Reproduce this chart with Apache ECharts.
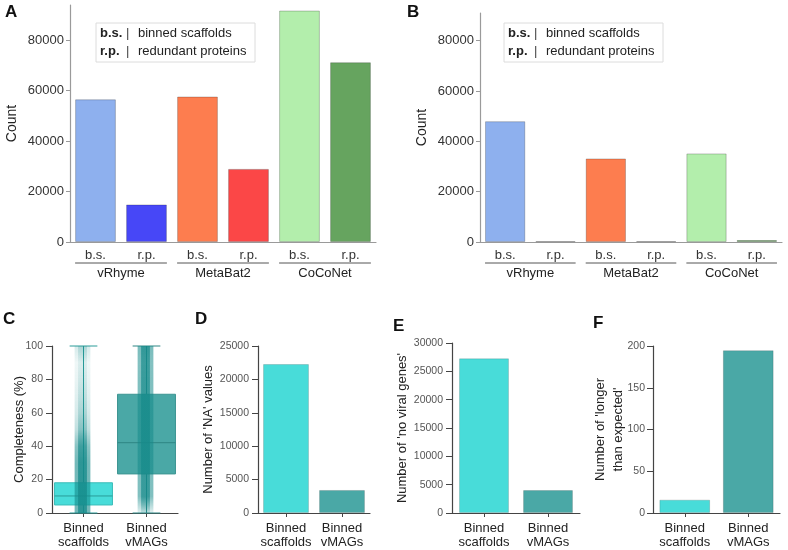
<!DOCTYPE html>
<html>
<head>
<meta charset="utf-8">
<script src="https://cdn.jsdelivr.net/npm/echarts@6/dist/echarts.min.js"></script>
<style>
  html, body { margin: 0; padding: 0; background: #fff; }
  #chart { width: 788px; height: 550px; }
</style>
</head>
<body>
<div id="chart"></div>
<script>
// A / B: binned scaffolds (b.s.) and redundant proteins (r.p.) per binner
var binners = ['vRhyme', 'MetaBat2', 'CoCoNet'];
var subLabels = ['b.s.', 'r.p.'];
var countA = [56600, 14900, 57700, 29000, 91800, 71300];
var countB = [48000, 350, 33200, 350, 35200, 800];
var countTicks = [0, 20000, 40000, 60000, 80000];

// C - F: binned scaffolds vs binned vMAGs
var binCats = ['Binned\nscaffolds', 'Binned\nvMAGs'];
// completeness box stats [min, q1, median, q3, max]
var boxScaffolds = [0, 4.8, 10.2, 18.1, 100];
var boxVmags = [0, 23.4, 42.1, 71.1, 100];
// how dense the point strip looks (0..1), read by eye at these completeness levels
var stripLevels = [0, 5, 10, 20, 30, 40, 50, 60, 70, 80, 90, 100];
var stripScaffolds = [1, 1, 1, 1, 1, 0.85, 0.45, 0.3, 0.22, 0.16, 0.12, 0.3];
var stripVmags = [0.2, 0.55, 0.9, 0.9, 0.92, 0.92, 0.92, 0.92, 0.9, 0.9, 0.88, 0.95];
var naCounts = [22300, 3450];
var noViralCounts = [27300, 4050];
var longerCounts = [16, 195];

var FONT = 'Liberation Sans, Arial, sans-serif';
var barColors = ['#8eb0ee', '#4747f7', '#fd7d4f', '#fb4747', '#b3eeac', '#66a45f'];
var tealColors = ['#48dcd9', '#4aa8a6'];
var boxStyle = [
  { fill: '#48dcd9', edge: '#3cbdb9', line: '#2a9c99' },
  { fill: '#4aa8a6', edge: '#3e9592', line: '#2e8684' }
];

var keys = [];
binners.forEach(function (b) {
  subLabels.forEach(function (s) { keys.push(b + ' ' + s); });
});

var chart = echarts.init(document.getElementById('chart'));

function plain(v) { return String(v); }

function topY(gridIdx, name, gap, max, ticks) {
  return {
    gridIndex: gridIdx, type: 'value', min: 0, max: max,
    name: name, nameLocation: 'middle', nameGap: gap, nameMoveOverlap: false,
    nameTextStyle: { fontSize: 14, color: '#222', fontFamily: FONT },
    axisLine: { show: true, lineStyle: { color: '#9a9a9a', width: 1.2 } },
    axisTick: { show: true, length: 4, customValues: ticks, lineStyle: { color: '#9a9a9a' } },
    axisLabel: { customValues: ticks, fontSize: 13, color: '#333', margin: 6, fontFamily: FONT, formatter: plain },
    splitLine: { show: false }
  };
}
function topX(gridIdx) {
  return {
    gridIndex: gridIdx, type: 'category', data: keys,
    axisLine: { lineStyle: { color: '#9a9a9a', width: 1.2 } },
    axisTick: { show: false },
    axisLabel: {
      interval: 0, fontSize: 13, color: '#333', margin: 7, fontFamily: FONT,
      formatter: function (v) { return v.split(' ')[1]; }
    }
  };
}
function botY(gridIdx, name, gap, max, interval, labelMargin) {
  return {
    gridIndex: gridIdx, type: 'value', min: 0, max: max, interval: interval,
    name: name, nameLocation: 'middle', nameGap: gap, nameMoveOverlap: false,
    nameTextStyle: { fontSize: 13, color: '#222', fontFamily: FONT, lineHeight: 18 },
    axisLine: { show: true, lineStyle: { color: '#444', width: 1.2 } },
    axisTick: { show: true, length: 6, lineStyle: { color: '#444' } },
    axisLabel: { fontSize: 10.5, color: '#555', margin: labelMargin, fontFamily: FONT, formatter: plain },
    splitLine: { show: false }
  };
}
function botX(gridIdx) {
  return {
    gridIndex: gridIdx, type: 'category', data: binCats,
    axisLine: { lineStyle: { color: '#444', width: 1.2 } },
    axisTick: { show: true, length: 4, alignWithLabel: true, lineStyle: { color: '#444' } },
    axisLabel: { interval: 0, fontSize: 13, lineHeight: 14, color: '#222', margin: 8, fontFamily: FONT }
  };
}

function coloredBars(values, colors) {
  return values.map(function (v, i) {
    return { value: v, itemStyle: { color: colors[i] } };
  });
}

function renderBox(params, api) {
  var cat = api.value(0);
  var band = api.size([1, 0])[0];
  var half = band * 0.46;
  var capHalf = band * 0.22;
  var x = api.coord([cat, 0])[0];
  var y = function (k) { return api.coord([cat, api.value(k)])[1]; };
  var st = boxStyle[cat];
  var ln = { stroke: st.line, lineWidth: 1 };
  return {
    type: 'group',
    children: [
      { type: 'line', shape: { x1: x, y1: y(1), x2: x, y2: y(2) }, style: ln },
      { type: 'line', shape: { x1: x, y1: y(4), x2: x, y2: y(5) }, style: ln },
      { type: 'line', shape: { x1: x - capHalf, y1: y(1), x2: x + capHalf, y2: y(1) }, style: ln },
      { type: 'line', shape: { x1: x - capHalf, y1: y(5), x2: x + capHalf, y2: y(5) }, style: ln },
      { type: 'rect', shape: { x: x - half, y: y(4), width: half * 2, height: y(2) - y(4) },
        style: { fill: st.fill, stroke: st.edge, lineWidth: 1 } },
      { type: 'line', shape: { x1: x - half, y1: y(3), x2: x + half, y2: y(3) }, style: ln }
    ]
  };
}

function renderStrip(params, api) {
  var cat = api.value(0);
  var dens = cat === 0 ? stripScaffolds : stripVmags;
  var band = api.size([1, 0])[0];
  var x = api.coord([cat, 0])[0] - 1;
  var yTop = api.coord([cat, 100])[1];
  var yBot = api.coord([cat, 0])[1];
  function grad(scale) {
    var stops = [];
    for (var i = stripLevels.length - 1; i >= 0; i--) {
      stops.push({ offset: 1 - stripLevels[i] / 100,
        color: 'rgba(21,138,138,' + (dens[i] * scale).toFixed(3) + ')' });
    }
    return { type: 'linear', x: 0, y: 0, x2: 0, y2: 1, colorStops: stops };
  }
  var outer = band * 0.125, inner = band * 0.07;
  return {
    type: 'group',
    children: [
      { type: 'rect', shape: { x: x - outer, y: yTop, width: outer * 2, height: yBot - yTop },
        style: { fill: grad(0.6) } },
      { type: 'rect', shape: { x: x - inner, y: yTop, width: inner * 2, height: yBot - yTop },
        style: { fill: grad(0.75) } }
    ]
  };
}

var option = {
  animation: false,
  textStyle: { fontFamily: FONT },
  grid: [
    { left: 70, top: 5, width: 306, height: 237 },
    { left: 480, top: 13, width: 302, height: 229 },
    { left: 52, top: 346, width: 126, height: 167 },
    { left: 258, top: 346, width: 112, height: 167 },
    { left: 452, top: 343, width: 128, height: 170 },
    { left: 653, top: 346, width: 127, height: 167 }
  ],
  xAxis: [topX(0), topX(1), botX(2), botX(3), botX(4), botX(5)],
  yAxis: [
    topY(0, 'Count', 51, 94000, countTicks),
    topY(1, 'Count', 51, 91000, countTicks),
    botY(2, 'Completeness (%)', 24, 100, 20, 9),
    botY(3, "Number of 'NA' values", 41, 25000, 5000, 9),
    botY(4, "Number of 'no viral genes'", 41, 30000, 5000, 9),
    botY(5, "Number of 'longer\nthan expected'", 26, 200, 50, 8)
  ],
  series: [
    { type: 'bar', xAxisIndex: 0, yAxisIndex: 0, barWidth: '80%',
      itemStyle: { borderColor: 'rgba(0,0,0,0.22)', borderWidth: 1 },
      data: coloredBars(countA, barColors) },
    { type: 'bar', xAxisIndex: 1, yAxisIndex: 1, barWidth: '80%',
      itemStyle: { borderColor: 'rgba(0,0,0,0.22)', borderWidth: 1 },
      data: coloredBars(countB, barColors) },
    { type: 'custom', xAxisIndex: 2, yAxisIndex: 2, renderItem: renderBox,
      encode: { x: 0, y: [1, 2, 3, 4, 5] },
      data: [[0].concat(boxScaffolds), [1].concat(boxVmags)] },
    { type: 'custom', xAxisIndex: 2, yAxisIndex: 2, renderItem: renderStrip,
      encode: { x: 0, y: 1 },
      data: [[0, 100], [1, 100]] },
    { type: 'bar', xAxisIndex: 3, yAxisIndex: 3, barWidth: '82%',
      itemStyle: { borderColor: 'rgba(0,0,0,0.15)', borderWidth: 1 },
      data: coloredBars(naCounts, tealColors) },
    { type: 'bar', xAxisIndex: 4, yAxisIndex: 4, barWidth: '78%',
      itemStyle: { borderColor: 'rgba(0,0,0,0.15)', borderWidth: 1 },
      data: coloredBars(noViralCounts, tealColors) },
    { type: 'bar', xAxisIndex: 5, yAxisIndex: 5, barWidth: '80%',
      itemStyle: { borderColor: 'rgba(0,0,0,0.15)', borderWidth: 1 },
      data: coloredBars(longerCounts, tealColors) }
  ]
};
chart.setOption(option);

// extra drawing: panel letters, legend boxes, binner brackets under A and B
var graphics = [];
function letter(t, x, y) {
  graphics.push({ type: 'text', x: x, y: y,
    style: { text: t, font: 'bold 17px ' + FONT, fill: '#111' } });
}
letter('A', 5, 4);
letter('B', 407, 4);
letter('C', 3, 311);
letter('D', 195, 311);
letter('E', 393, 318);
letter('F', 593, 315);

function legendBox(x, y) {
  var rows = [['b.s.', 'binned scaffolds'], ['r.p.', 'redundant proteins']];
  var children = [{ type: 'rect', shape: { x: 0, y: 0, width: 159, height: 39 },
    style: { fill: 'rgba(255,255,255,0.85)', stroke: '#dcdcdc', lineWidth: 1 } }];
  rows.forEach(function (r, i) {
    var ty = 10 + i * 18;
    children.push({ type: 'text', x: 4, y: ty,
      style: { text: r[0], font: 'bold 13px ' + FONT, fill: '#222', verticalAlign: 'middle' } });
    children.push({ type: 'text', x: 30, y: ty,
      style: { text: '|', font: '13px ' + FONT, fill: '#444', verticalAlign: 'middle' } });
    children.push({ type: 'text', x: 42, y: ty,
      style: { text: r[1], font: '13px ' + FONT, fill: '#222', verticalAlign: 'middle' } });
  });
  graphics.push({ type: 'group', x: x, y: y, children: children });
}
legendBox(96, 23);
legendBox(504, 23);

function brackets(gridIdx) {
  binners.forEach(function (name, g) {
    var p0 = chart.convertToPixel({ gridIndex: gridIdx }, [2 * g, 0]);
    var p1 = chart.convertToPixel({ gridIndex: gridIdx }, [2 * g + 1, 0]);
    var half = (p1[0] - p0[0]) * 0.4;
    var ly = p0[1] + 21;
    graphics.push({ type: 'line',
      shape: { x1: p0[0] - half, y1: ly, x2: p1[0] + half, y2: ly },
      style: { stroke: '#555', lineWidth: 1 } });
    graphics.push({ type: 'text', x: (p0[0] + p1[0]) / 2, y: ly + 10,
      style: { text: name, font: '13px ' + FONT, fill: '#222', align: 'center', verticalAlign: 'middle' } });
  });
}
brackets(0);
brackets(1);

chart.setOption({ graphic: graphics });
</script>
</body>
</html>
